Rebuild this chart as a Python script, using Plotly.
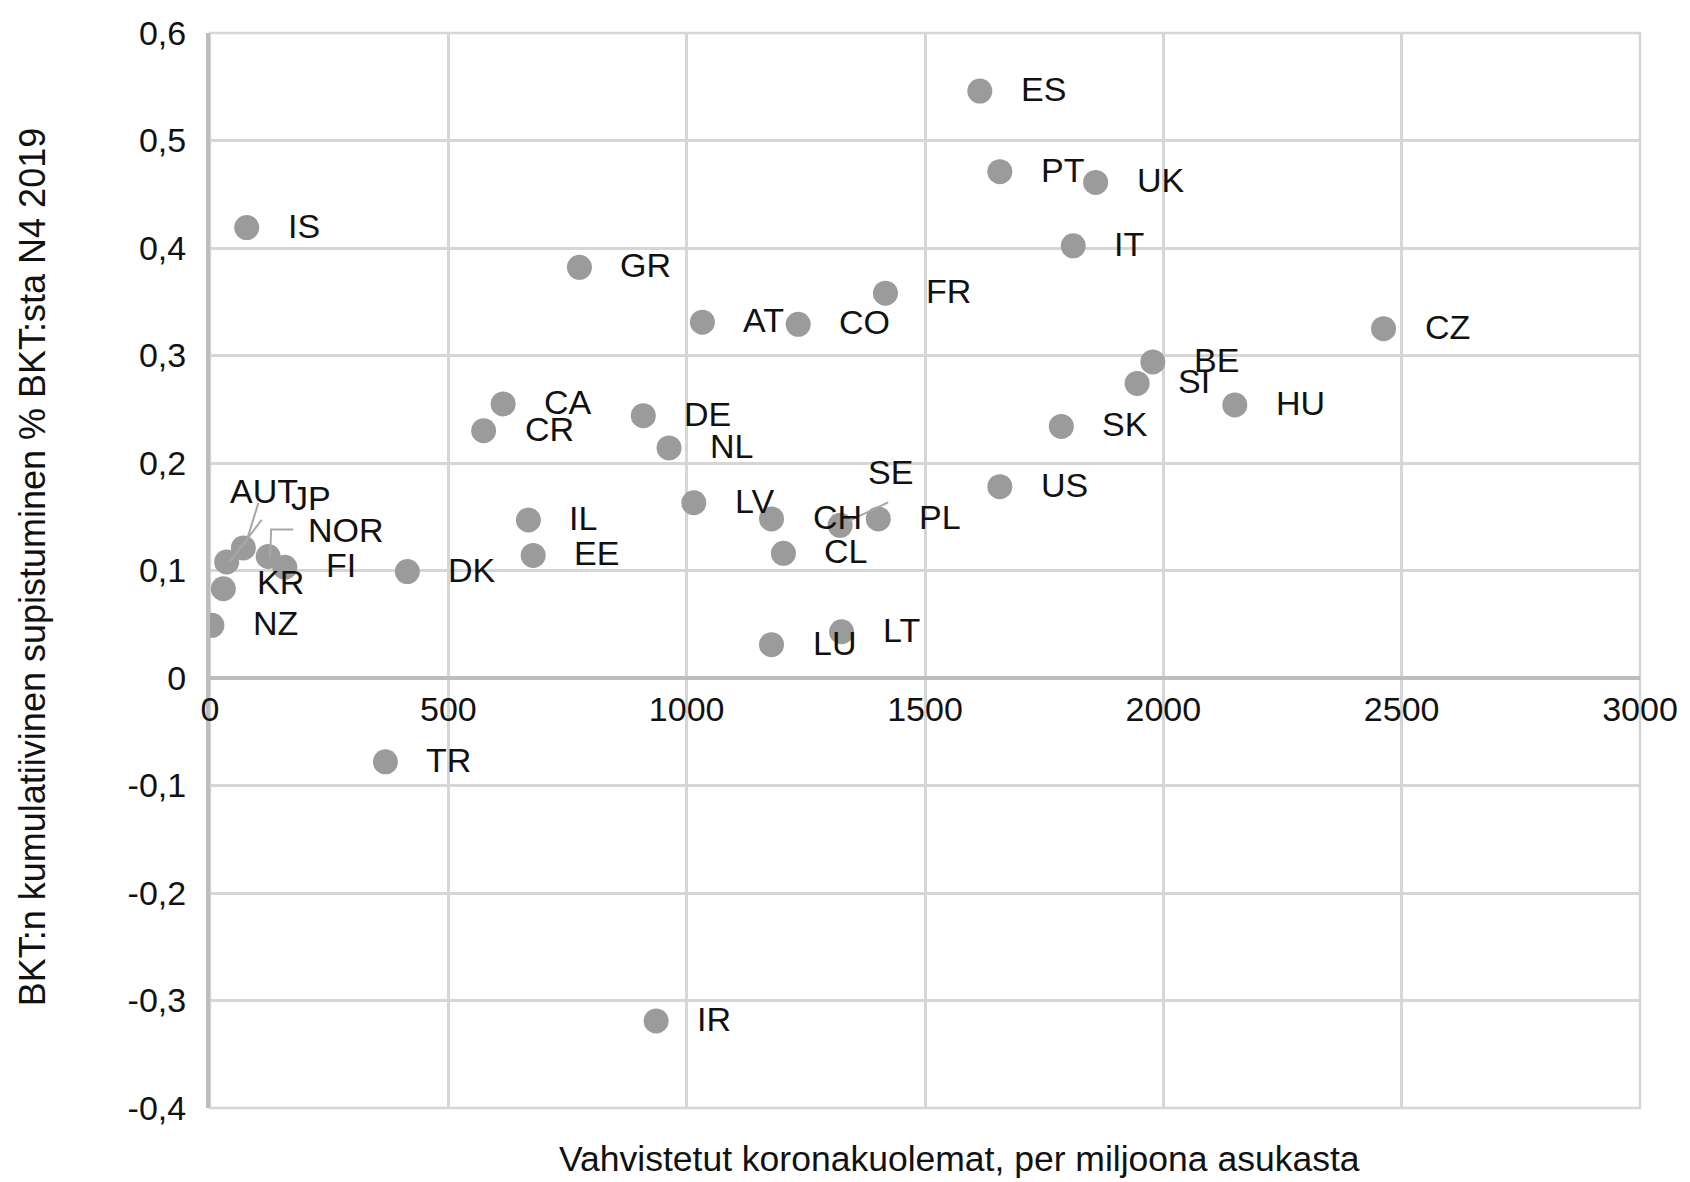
import plotly.graph_objects as go

# Country codes, confirmed COVID deaths per million, cumulative GDP contraction (% of Q4 2019 GDP)
countries = ["ES", "PT", "UK", "IT", "FR", "CZ", "BE", "SI", "HU", "SK", "US",
             "IS", "GR", "AT", "CO", "CA", "CR", "DE", "NL", "LV", "IL", "EE",
             "CH", "SE", "CL", "PL", "LU", "LT", "DK", "TR", "IR",
             "NZ", "KR", "JP", "AUT", "NOR", "FI"]
deaths = [1615, 1657, 1858, 1811, 1417, 2462, 1978, 1945, 2150, 1786, 1657,
          77, 775, 1033, 1234, 615, 574, 909, 963, 1015, 668, 678,
          1178, 1322, 1203, 1402, 1178, 1325, 414, 368, 936,
          4, 28, 35, 70, 122, 157]
gdp_drop = [0.546, 0.471, 0.461, 0.402, 0.358, 0.325, 0.294, 0.274, 0.254, 0.234, 0.178,
            0.419, 0.382, 0.331, 0.329, 0.255, 0.230, 0.244, 0.214, 0.163, 0.147, 0.114,
            0.148, 0.142, 0.116, 0.148, 0.031, 0.043, 0.099, -0.078, -0.319,
            0.049, 0.083, 0.108, 0.121, 0.113, 0.103]

x_ticks = [0, 500, 1000, 1500, 2000, 2500, 3000]
y_ticks = [-0.4, -0.3, -0.2, -0.1, 0, 0.1, 0.2, 0.3, 0.4, 0.5, 0.6]
y_tick_text = ["-0,4", "-0,3", "-0,2", "-0,1", "0", "0,1", "0,2", "0,3", "0,4", "0,5", "0,6"]

x_title = "Vahvistetut koronakuolemat, per miljoona asukasta"
y_title = "BKT:n kumulatiivinen supistuminen % BKT:sta N4 2019"

FONT = "Liberation Sans, Arial, Helvetica, sans-serif"
GRID = "#d6d6d6"
AXIS = "#bdbdbd"
MARK = "#9b9b9b"
LEADER = "#a8a8a8"

# label placement in pixels relative to the marker (dx to text start, dy upward)
label_offset = {"KR": (33, 7), "AUT": (-14, 57), "JP": (63, 64), "NOR": (39, 27), "SE": (27, 53)}
default_offset = (40, 2)

# leader lines for displaced labels, pixel paths relative to the marker (y upward)
leaders = {
    "AUT": "M 15,45 L 2,3",
    "JP": "M 35,42 L 3,0",
    "NOR": "M 2,0 L 3,27 L 25,27",
    "SE": "M 48,23 L 8,4",
}

fig = go.Figure()
fig.add_trace(go.Scatter(
    x=deaths, y=gdp_drop, mode="markers",
    marker=dict(size=25, color=MARK, line=dict(width=0)),
    hoverinfo="skip", showlegend=False,
))

annotations = []
for name, xv, yv in zip(countries, deaths, gdp_drop):
    dx, dy = label_offset.get(name, default_offset)
    annotations.append(dict(
        x=xv, y=yv, xref="x", yref="y", text=name, showarrow=False,
        xanchor="left", yanchor="middle", xshift=dx, yshift=dy, borderpad=0,
        font=dict(family=FONT, size=34, color="#111111"),
    ))

annotations.append(dict(
    x=0.524, y=-0.047, xref="paper", yref="paper", text=x_title, showarrow=False,
    xanchor="center", yanchor="middle",
    font=dict(family=FONT, size=35.5, color="#111111"),
))
annotations.append(dict(
    x=-0.1245, y=0.503, xref="paper", yref="paper", text=y_title, showarrow=False,
    textangle=-90, xanchor="center", yanchor="middle",
    font=dict(family=FONT, size=36, color="#111111"),
))

shapes = [dict(type="rect", xref="paper", yref="paper", x0=0, x1=1, y0=0, y1=1,
               line=dict(color=GRID, width=2.5), layer="below")]
idx = {c: i for i, c in enumerate(countries)}
for name, path in leaders.items():
    i = idx[name]
    shapes.append(dict(
        type="path", xref="x", yref="y", xsizemode="pixel", ysizemode="pixel",
        xanchor=deaths[i], yanchor=gdp_drop[i], path=path,
        line=dict(color=LEADER, width=2), layer="above",
    ))

fig.update_layout(
    width=1690, height=1182,
    margin=dict(l=210, r=50, t=33, b=74),
    paper_bgcolor="white", plot_bgcolor="white",
    font=dict(family=FONT, size=34, color="#111111"),
    annotations=annotations, shapes=shapes,
    xaxis=dict(
        range=[0, 3000], tickvals=x_ticks, ticktext=[str(v) for v in x_ticks],
        showgrid=True, gridcolor=GRID, gridwidth=2.5,
        zeroline=False, showline=True, linecolor=AXIS, linewidth=4,
        anchor="free", position=0.4, ticks="", ticklabelstandoff=0,
        tickfont=dict(family=FONT, size=34, color="#111111"),
    ),
    yaxis=dict(
        range=[-0.4, 0.6], tickvals=y_ticks, ticktext=y_tick_text,
        showgrid=True, gridcolor=GRID, gridwidth=2.5,
        zeroline=False, showline=True, linecolor=AXIS, linewidth=4,
        ticks="", ticklabelstandoff=13,
        tickfont=dict(family=FONT, size=34, color="#111111"),
    ),
)

fig.write_html("out.html")
